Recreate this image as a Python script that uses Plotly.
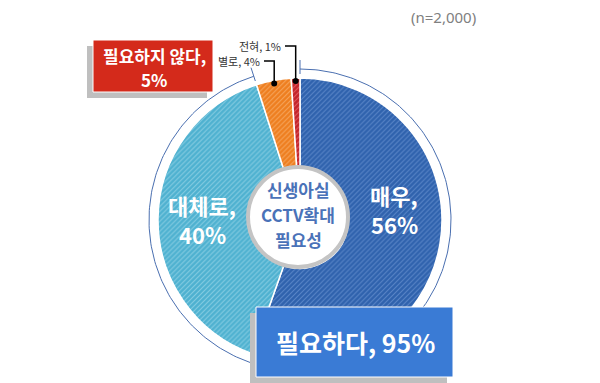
import numpy as np
import plotly.graph_objects as go

# ---------------- data ----------------
categories = ["매우", "대체로", "별로", "전혀"]
values = [56, 40, 4, 1]
slice_colors = ["#2F62AD", "#4EB1D0", "#EE7E1F", "#C3252B"]
stripe_colors = ["#5A86C8", "#86CDE2", "#F6A55C", "#E0585C"]
group_labels = ["필요하다, 95%", "필요하지 않다,", "5%"]
center_lines = ["신생아실", "CCTV확대", "필요성"]
sample_note = "(n=2,000)"

W, H = 600, 383
cx, cy, R = 300, 220, 142
FONT = "Noto Sans CJK KR"

fig = go.Figure()

# ---------------- outer bracket ring (95% group) ----------------
total = sum(values)
need_frac = (values[0] + values[1]) / total
t_end = 2 * np.pi * need_frac
t = np.linspace(0, t_end, 300)
r_ring = 151
fig.add_trace(go.Scatter(
    x=cx + r_ring * np.sin(t), y=cy - r_ring * np.cos(t),
    mode="lines", line=dict(color="#4A6FB0", width=1),
    hoverinfo="skip", showlegend=False))
for ang in [0, t_end]:
    fig.add_trace(go.Scatter(
        x=[cx + 146 * np.sin(ang), cx + 160 * np.sin(ang)],
        y=[cy - 146 * np.cos(ang), cy - 160 * np.cos(ang)],
        mode="lines", line=dict(color="#4A6FB0", width=1),
        hoverinfo="skip", showlegend=False))

# ---------------- pie ----------------
fig.add_trace(go.Pie(
    labels=categories, values=values, sort=False, direction="clockwise",
    rotation=0, hole=0.34,
    domain=dict(x=[(cx - R) / W, (cx + R) / W], y=[(H - cy - R) / H, (H - cy + R) / H]),
    marker=dict(colors=slice_colors, line=dict(color="white", width=1.5),
                pattern=dict(shape="/", fgcolor=stripe_colors, bgcolor=slice_colors,
                             size=3.5, solidity=0.3)),
    textinfo="none", hoverinfo="skip", showlegend=False))

shapes = []
annotations = []

# center circle
shapes.append(dict(type="circle", xref="x", yref="y", x0=298 - 50, x1=298 + 50,
                   y0=217 - 50, y1=217 + 50, fillcolor="white",
                   line=dict(color="#C4C4C4", width=4), layer="above"))
for i, ln in enumerate(center_lines):
    annotations.append(dict(x=298, y=189 + 25 * i, xref="x", yref="y", text="<b>%s</b>" % ln,
                            showarrow=False, font=dict(family=FONT, size=17, color="#4A72B8")))

# big slice labels (two lines each)
big_pos = [(394, 195), (202, 205)]
for i in range(2):
    bx, by = big_pos[i]
    annotations.append(dict(x=bx, y=by, xref="x", yref="y", text="<b>%s,</b>" % categories[i],
                            showarrow=False, font=dict(family=FONT, size=22, color="white")))
    annotations.append(dict(x=bx, y=by + 29, xref="x", yref="y", text="<b>%d%%</b>" % values[i],
                            showarrow=False, font=dict(family=FONT, size=22, color="white")))

# small slice labels with elbow leaders
cum = np.cumsum([0] + values) / total
small_text_pos = {2: (262, 61), 3: (283, 46)}
for i in [2, 3]:
    mid = 2 * np.pi * (cum[i] + cum[i + 1]) / 2
    dx, dy = cx + 139 * np.sin(mid), cy - 139 * np.cos(mid)
    tx, ty = small_text_pos[i]
    annotations.append(dict(x=tx, y=ty, xref="x", yref="y", xanchor="right",
                            text="%s, %d%%" % (categories[i], values[i]), showarrow=False,
                            font=dict(family=FONT, size=11, color="#333333")))
    shapes.append(dict(type="path", xref="x", yref="y",
                       path="M %f %f L %f %f L %f %f" % (tx + 2, ty, dx, ty, dx, dy),
                       line=dict(color="black", width=1.5), layer="above"))
    shapes.append(dict(type="circle", xref="x", yref="y", x0=dx - 3, x1=dx + 3,
                       y0=dy - 3, y1=dy + 3, fillcolor="black", line=dict(width=0),
                       layer="above"))

# red box (필요하지 않다)
shapes.append(dict(type="rect", xref="x", yref="y", x0=87, x1=207, y0=46, y1=98,
                   fillcolor="#BFBFBF", line=dict(width=0), layer="above"))
shapes.append(dict(type="rect", xref="x", yref="y", x0=93, x1=213, y0=40, y1=92,
                   fillcolor="#D42A1B", line=dict(color="white", width=1), layer="above"))
annotations.append(dict(x=154, y=55, xref="x", yref="y", text="<b>%s</b>" % group_labels[1],
                        showarrow=False, font=dict(family=FONT, size=17, color="white")))
annotations.append(dict(x=154, y=79, xref="x", yref="y", text="<b>%s</b>" % group_labels[2],
                        showarrow=False, font=dict(family=FONT, size=17, color="white")))

# blue box (필요하다)
shapes.append(dict(type="rect", xref="x", yref="y", x0=250, x1=447, y0=313, y1=385,
                   fillcolor="#BFBFBF", line=dict(width=0), layer="above"))
shapes.append(dict(type="rect", xref="x", yref="y", x0=256, x1=453, y0=307, y1=377,
                   fillcolor="#3A7BD5", line=dict(color="white", width=1), layer="above"))
annotations.append(dict(x=355, y=342, xref="x", yref="y", text="<b>%s</b>" % group_labels[0],
                        showarrow=False, font=dict(family=FONT, size=25, color="white")))

# sample size note
annotations.append(dict(x=478, y=17, xref="x", yref="y", xanchor="right", text=sample_note,
                        showarrow=False, font=dict(family="Noto Sans", size=15, color="#808080")))

fig.update_layout(
    width=W, height=H, margin=dict(l=0, r=0, t=0, b=0),
    paper_bgcolor="white", plot_bgcolor="white", showlegend=False,
    xaxis=dict(range=[0, W], visible=False, fixedrange=True, domain=[0, 1]),
    yaxis=dict(range=[H, 0], visible=False, fixedrange=True, domain=[0, 1]),
    shapes=shapes, annotations=annotations)

fig.write_html("out.html", config={"displayModeBar": False},
               post_script="document.body.style.margin='0px';document.body.style.padding='0px';")
